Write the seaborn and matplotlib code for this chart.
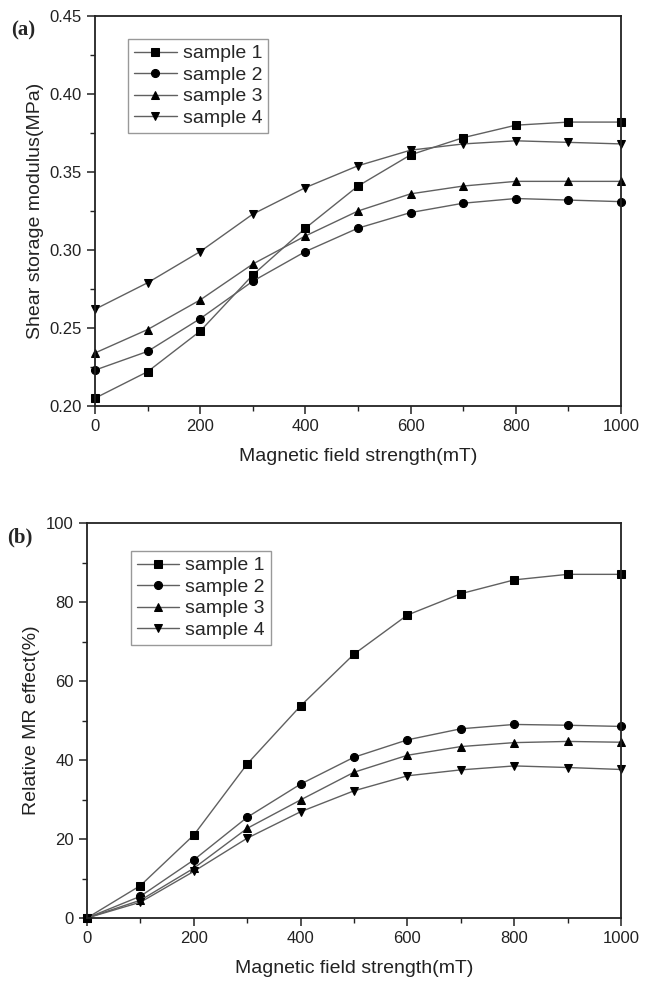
import numpy as np
import pandas as pd
import matplotlib
matplotlib.use("Agg")
import matplotlib.pyplot as plt
import seaborn as sns
from matplotlib.ticker import MultipleLocator

# --- DATA ---
field = [0, 100, 200, 300, 400, 500, 600, 700, 800, 900, 1000]

g_s1 = [0.205, 0.222, 0.248, 0.284, 0.314, 0.341, 0.361, 0.372, 0.380, 0.382, 0.382]
g_s2 = [0.223, 0.235, 0.256, 0.280, 0.299, 0.314, 0.324, 0.330, 0.333, 0.332, 0.331]
g_s3 = [0.234, 0.249, 0.268, 0.291, 0.309, 0.325, 0.336, 0.341, 0.344, 0.344, 0.344]
g_s4 = [0.262, 0.279, 0.299, 0.323, 0.340, 0.354, 0.364, 0.368, 0.370, 0.369, 0.368]

mr_s1 = [0, 8.2, 21.0, 39.0, 53.7, 66.8, 76.7, 82.1, 85.6, 87.0, 87.0]
mr_s2 = [0, 5.5, 14.7, 25.5, 33.9, 40.7, 45.1, 47.9, 49.0, 48.8, 48.5]
mr_s3 = [0, 4.5, 12.6, 22.7, 29.9, 36.9, 41.2, 43.4, 44.4, 44.7, 44.5]
mr_s4 = [0, 4.0, 11.8, 20.2, 26.9, 32.2, 36.0, 37.5, 38.5, 38.1, 37.6]

labels = ["sample 1", "sample 2", "sample 3", "sample 4"]
markers = ["s", "o", "^", "v"]

sns.set_style("ticks")
plt.rcParams['font.family'] = ['Liberation Sans', 'DejaVu Sans']

fig = plt.figure(figsize=(6.51, 9.83), dpi=100)
ax1 = fig.add_axes([95/651, 1 - 406/983, 526/651, 390/983])
ax2 = fig.add_axes([87/651, 1 - 918/983, 534/651, 395/983])


def draw(ax, series, ylim, major, minor, ylabel, leg_anchor):
    for vals, lab, mk in zip(series, labels, markers):
        sns.lineplot(x=field, y=vals, ax=ax, color="#606060", lw=1.0,
                     marker=mk, markersize=5.8, markerfacecolor="black",
                     markeredgecolor="black", label=lab, clip_on=False)
    ax.set_xlim(0, 1000)
    ax.set_ylim(*ylim)
    ax.xaxis.set_major_locator(MultipleLocator(200))
    ax.xaxis.set_minor_locator(MultipleLocator(100))
    ax.yaxis.set_major_locator(MultipleLocator(major))
    ax.yaxis.set_minor_locator(MultipleLocator(minor))
    ax.tick_params(which="major", direction="out", length=6, width=1.1,
                   labelsize=12, colors="#222222")
    ax.tick_params(which="minor", direction="out", length=3.5, width=1.0,
                   colors="#222222")
    for sp in ax.spines.values():
        sp.set_linewidth(1.3)
        sp.set_color("#222222")
    ax.set_xlabel("Magnetic field strength(mT)", fontsize=14, color="#222222",
                  labelpad=10)
    ax.set_ylabel(ylabel, fontsize=14, color="#222222")
    leg = ax.legend(loc="upper left", bbox_to_anchor=leg_anchor, borderaxespad=0,
                    fontsize=14, frameon=True, fancybox=False, framealpha=1,
                    edgecolor="#999999", handlelength=2.2, handletextpad=0.3,
                    labelspacing=0.2, borderpad=0.3)
    leg.get_frame().set_linewidth(1.0)


draw(ax1, [g_s1, g_s2, g_s3, g_s4], (0.20, 0.45), 0.05, 0.025,
     "Shear storage modulus(MPa)", (0.063, 0.941))
ax1.yaxis.set_major_formatter(matplotlib.ticker.FormatStrFormatter("%.2f"))

draw(ax2, [mr_s1, mr_s2, mr_s3, mr_s4], (0, 100), 20, 10,
     "Relative MR effect(%)", (0.082, 0.929))

fig.text(23/651, 1 - 30/983, "(a)", fontsize=15, fontweight="bold",
         family=["Liberation Serif", "DejaVu Serif"], ha="center", va="center")
fig.text(20/651, 1 - 537/983, "(b)", fontsize=15, fontweight="bold",
         family=["Liberation Serif", "DejaVu Serif"], ha="center", va="center")

fig.savefig("out.png", dpi=100)
